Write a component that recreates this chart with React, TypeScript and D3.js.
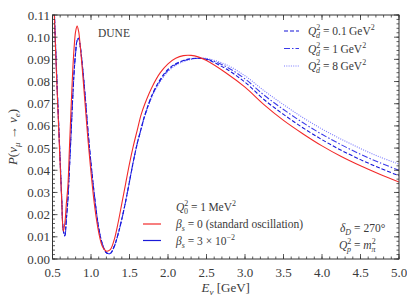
import React from 'react';
import * as d3 from 'd3';

// neutrino energy grid [GeV]
const energies = [
  0.50, 0.52, 0.54, 0.56, 0.58, 0.60, 0.62, 0.64, 0.66, 0.68, 0.70, 0.72, 0.74, 0.76, 0.78, 0.80,
  0.82, 0.84, 0.86, 0.88, 0.90, 0.93, 0.96, 1.00, 1.05, 1.10, 1.15, 1.20, 1.25, 1.30, 1.35, 1.40,
  1.45, 1.50, 1.55, 1.60, 1.65, 1.70, 1.80, 1.90, 2.00, 2.10, 2.20, 2.30, 2.40, 2.50, 2.75, 3.00,
  3.25, 3.50, 3.75, 4.00, 4.25, 4.50, 4.75, 5.00,
];

// standard oscillation (beta_s = 0)
const pStandard = [
  0.135, 0.114, 0.094, 0.076, 0.059, 0.042, 0.026, 0.0125, 0.016, 0.025, 0.033, 0.050, 0.067, 0.083, 0.095, 0.1025,
  0.105, 0.1025, 0.096, 0.0885, 0.080, 0.067, 0.054, 0.039, 0.023, 0.012, 0.0055, 0.0035, 0.0042, 0.0085, 0.016, 0.025,
  0.034, 0.043, 0.051, 0.058, 0.065, 0.070, 0.078, 0.084, 0.088, 0.0905, 0.0917, 0.0918, 0.0910, 0.0895, 0.084, 0.0775,
  0.0695, 0.0625, 0.0565, 0.051, 0.0462, 0.042, 0.0382, 0.0347,
];

// beta_s = 3e-2, Q_d^2 = 0.1 GeV^2
const pQd01 = [
  0.135, 0.115, 0.096, 0.078, 0.061, 0.044, 0.027, 0.013, 0.0105, 0.018, 0.027, 0.041, 0.056, 0.071, 0.084, 0.093,
  0.0985, 0.0995, 0.096, 0.090, 0.083, 0.071, 0.058, 0.043, 0.027, 0.014, 0.0065, 0.0028, 0.0025, 0.0055, 0.011, 0.018,
  0.026, 0.035, 0.044, 0.052, 0.0587, 0.065, 0.0745, 0.081, 0.0855, 0.088, 0.0895, 0.0903, 0.0905, 0.0900, 0.0858, 0.0797,
  0.0718, 0.0652, 0.0592, 0.0538, 0.049, 0.0448, 0.041, 0.0375,
];

// beta_s = 3e-2, Q_d^2 = 1 GeV^2
const pQd1 = [
  0.135, 0.115, 0.096, 0.078, 0.061, 0.044, 0.027, 0.013, 0.0105, 0.018, 0.027, 0.041, 0.056, 0.071, 0.084, 0.093,
  0.0985, 0.0995, 0.096, 0.090, 0.083, 0.071, 0.058, 0.043, 0.027, 0.014, 0.0065, 0.0028, 0.0025, 0.0055, 0.011, 0.018,
  0.026, 0.035, 0.044, 0.052, 0.0585, 0.0648, 0.0742, 0.0805, 0.085, 0.0877, 0.0893, 0.0902, 0.0905, 0.0902, 0.0868, 0.0812,
  0.0738, 0.0674, 0.0615, 0.0562, 0.0515, 0.0472, 0.0434, 0.0400,
];

// beta_s = 3e-2, Q_d^2 = 8 GeV^2
const pQd8 = [
  0.135, 0.115, 0.096, 0.078, 0.061, 0.044, 0.027, 0.013, 0.0105, 0.018, 0.027, 0.041, 0.056, 0.071, 0.084, 0.093,
  0.0985, 0.0995, 0.096, 0.090, 0.083, 0.071, 0.058, 0.043, 0.027, 0.014, 0.0065, 0.0028, 0.0025, 0.0055, 0.011, 0.018,
  0.026, 0.035, 0.044, 0.052, 0.0583, 0.0645, 0.0738, 0.080, 0.0845, 0.0873, 0.089, 0.090, 0.0905, 0.0904, 0.0877, 0.0826,
  0.0758, 0.0696, 0.0638, 0.0586, 0.054, 0.0498, 0.046, 0.0428,
];

const width = 407;
const height = 305;
const margin = { top: 15, right: 8, bottom: 46, left: 52.5 };
const serif = "'Liberation Serif', 'DejaVu Serif', serif";

const x = d3.scaleLinear().domain([0.5, 5]).range([margin.left, width - margin.right]);
const y = d3.scaleLinear().domain([0, 0.11]).range([height - margin.bottom, margin.top]);

const line = d3
  .line<number>()
  .x((_, i) => x(energies[i]))
  .y((d) => y(d))
  .curve(d3.curveCatmullRom.alpha(0.5));

const series = [
  { values: pQd8, color: '#7a7aff', dash: '1,1.3' },
  { values: pQd1, color: '#3b3bea', dash: '6,2,1.5,2' },
  { values: pQd01, color: '#1515d8', dash: '4,2' },
  { values: pStandard, color: '#f22a2a', dash: null },
];

const topLegend = [
  { label: '0.1', color: '#1515d8', dash: '4,2' },
  { label: '1', color: '#3b3bea', dash: '6,2,1.5,2' },
  { label: '8', color: '#7a7aff', dash: '1,1.3' },
];

const fx = d3.format('.1f');
const fy = d3.format('.2f');

const App = () => {
  const x0 = x.range()[0];
  const x1 = x.range()[1];
  const y0 = y.range()[0];
  const y1 = y.range()[1];
  const axisColor = '#333';
  const textColor = '#3a3a3a';

  return (
    <svg width={width} height={height} style={{ position: 'absolute', left: 0, top: 0, background: '#fff' }}>
      <defs>
        <clipPath id="plot">
          <rect x={x0} y={y1} width={x1 - x0} height={y0 - y1} />
        </clipPath>
      </defs>

      {/* curves */}
      <g clipPath="url(#plot)" fill="none">
        {series.map((s, i) => (
          <path
            key={i}
            d={line(s.values) ?? ''}
            stroke={s.color}
            strokeWidth={1.1}
            strokeDasharray={s.dash ?? undefined}
          />
        ))}
      </g>

      {/* ticks, inward on all four sides */}
      <g stroke={axisColor} strokeWidth={0.8}>
        {x.ticks(45).map((t, i) => (
          <g key={'mx' + i}>
            <line x1={x(t)} x2={x(t)} y1={y0} y2={y0 - 2.5} />
            <line x1={x(t)} x2={x(t)} y1={y1} y2={y1 + 2.5} />
          </g>
        ))}
        {y.ticks(55).map((t, i) => (
          <g key={'my' + i}>
            <line x1={x0} x2={x0 + 2.5} y1={y(t)} y2={y(t)} />
            <line x1={x1} x2={x1 - 2.5} y1={y(t)} y2={y(t)} />
          </g>
        ))}
        {x.ticks(10).map((t, i) => (
          <g key={'Mx' + i}>
            <line x1={x(t)} x2={x(t)} y1={y0} y2={y0 - 5} />
            <line x1={x(t)} x2={x(t)} y1={y1} y2={y1 + 5} />
          </g>
        ))}
        {y.ticks(11).map((t, i) => (
          <g key={'My' + i}>
            <line x1={x0} x2={x0 + 5} y1={y(t)} y2={y(t)} />
            <line x1={x1} x2={x1 - 5} y1={y(t)} y2={y(t)} />
          </g>
        ))}
      </g>

      {/* frame */}
      <rect x={x0} y={y1} width={x1 - x0} height={y0 - y1} fill="none" stroke={axisColor} strokeWidth={1} />

      {/* tick labels */}
      <g fontFamily={serif} fontSize={13} fill={textColor}>
        {x.ticks(10).map((t, i) => (
          <text key={'lx' + i} x={x(t)} y={y0 + 17.5} textAnchor="middle">
            {fx(t)}
          </text>
        ))}
        {y.ticks(11).map((t, i) => (
          <text key={'ly' + i} x={x0 - 2.5} y={y(t) + 4.5} textAnchor="end">
            {fy(t)}
          </text>
        ))}
      </g>

      {/* axis titles */}
      <text x={(x0 + x1) / 2} y={292} textAnchor="middle" fontFamily={serif} fontSize={13} fill={textColor}>
        <tspan fontStyle="italic">E</tspan>
        <tspan fontStyle="italic" fontSize={9} dy={3}>ν</tspan>
        <tspan dy={-3}> [GeV]</tspan>
      </text>
      <text
        transform={`translate(17,${(y0 + y1) / 2}) rotate(-90)`}
        textAnchor="middle"
        fontFamily={serif}
        fontSize={13}
        fill={textColor}
      >
        <tspan fontStyle="italic">P</tspan>
        <tspan>(</tspan>
        <tspan fontStyle="italic">ν</tspan>
        <tspan fontStyle="italic" fontSize={9} dy={3}>μ</tspan>
        <tspan dy={-3}> → </tspan>
        <tspan fontStyle="italic">ν</tspan>
        <tspan fontStyle="italic" fontSize={9} dy={3}>e</tspan>
        <tspan dy={-3}>)</tspan>
      </text>

      <text x={98} y={37} fontFamily={serif} fontSize={11.5} fill={textColor}>DUNE</text>

      {/* top-right legend */}
      <g fontFamily={serif} fontSize={11.5} fill={textColor}>
        {topLegend.map((d, i) => {
          const ly = 31 + i * 17.5;
          return (
            <g key={'tl' + i}>
              <line x1={284} x2={299} y1={ly} y2={ly} stroke={d.color} strokeWidth={1.1} strokeDasharray={d.dash} />
              <text x={308} y={ly + 4}>
                <tspan fontStyle="italic">Q</tspan>
                <tspan fontSize={8} dy={-5}>2</tspan>
                <tspan fontSize={8} fontStyle="italic" dx={-4.2} dy={8}>d</tspan>
                <tspan dy={-3}>{` = ${d.label}\u2009GeV`}</tspan>
                <tspan fontSize={8} dy={-5}>2</tspan>
              </text>
            </g>
          );
        })}
      </g>

      {/* bottom legend */}
      <g fontFamily={serif} fontSize={11.5} fill={textColor}>
        <text x={176} y={211}>
          <tspan fontStyle="italic">Q</tspan>
          <tspan fontSize={8} dy={-5}>2</tspan>
          <tspan fontSize={8} dx={-4.2} dy={8}>0</tspan>
          <tspan dy={-3}>{' = 1\u2009MeV'}</tspan>
          <tspan fontSize={8} dy={-5}>2</tspan>
        </text>
        <line x1={143} x2={161} y1={224} y2={224} stroke="#f22a2a" strokeWidth={1.2} />
        <text x={176} y={228}>
          <tspan fontStyle="italic">β</tspan>
          <tspan fontSize={8} fontStyle="italic" dy={3}>s</tspan>
          <tspan dy={-3}> = 0 (standard oscillation)</tspan>
        </text>
        <line x1={143} x2={161} y1={240.5} y2={240.5} stroke="#1a1ad8" strokeWidth={1.2} />
        <text x={176} y={244.5}>
          <tspan fontStyle="italic">β</tspan>
          <tspan fontSize={8} fontStyle="italic" dy={3}>s</tspan>
          <tspan dy={-3}> = 3 × 10</tspan>
          <tspan fontSize={8} dy={-5}>−2</tspan>
        </text>
      </g>

      {/* parameters */}
      <g fontFamily={serif} fontSize={11.5} fill={textColor}>
        <text x={340} y={232}>
          <tspan fontStyle="italic">δ</tspan>
          <tspan fontSize={8} fontStyle="italic" dy={2.5}>D</tspan>
          <tspan dy={-2.5}> = 270°</tspan>
        </text>
        <text x={339} y={249}>
          <tspan fontStyle="italic">Q</tspan>
          <tspan fontSize={8} dy={-5}>2</tspan>
          <tspan fontSize={8} fontStyle="italic" dx={-4.2} dy={8}>p</tspan>
          <tspan dy={-3}> = </tspan>
          <tspan fontStyle="italic">m</tspan>
          <tspan fontSize={8} dy={-5}>2</tspan>
          <tspan fontSize={8} fontStyle="italic" dx={-4.2} dy={8}>π</tspan>
        </text>
      </g>
    </svg>
  );
};

export default App;
